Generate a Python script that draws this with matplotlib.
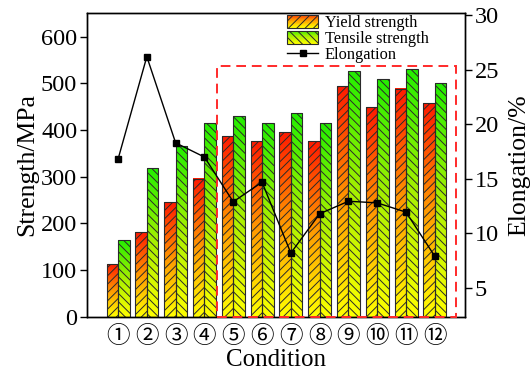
import numpy as np
import matplotlib
matplotlib.use("Agg")
import matplotlib.pyplot as plt
from matplotlib.colors import LinearSegmentedColormap
from matplotlib.patches import Rectangle
from matplotlib.legend_handler import HandlerBase
from matplotlib.lines import Line2D

conditions = ["①", "②", "③", "④", "⑤", "⑥", "⑦", "⑧", "⑨", "⑩", "⑪", "⑫"]
yield_strength = [112, 181, 246, 296, 387, 377, 395, 377, 495, 449, 489, 457]
tensile_strength = [165, 319, 366, 415, 431, 416, 437, 416, 527, 510, 531, 500]
elongation = [16.8, 26.2, 18.3, 17.0, 12.9, 14.7, 8.2, 11.8, 12.95, 12.8, 11.95, 7.9]

plt.rcParams['font.family'] = ['Liberation Serif', 'DejaVu Serif']
plt.rcParams['hatch.linewidth'] = 0.7

cmap_y = LinearSegmentedColormap.from_list("y", ["#ffff00", "#ff9900", "#ff1a00"])
cmap_t = LinearSegmentedColormap.from_list("t", ["#ffff00", "#a8f000", "#22ee00"])

fig = plt.figure(figsize=(5.3, 3.72), dpi=100)
ax = fig.add_axes([0.164, 0.149, 0.713, 0.816])
ax2 = ax.twinx()

x = np.arange(1, len(conditions) + 1)
w = 0.4
grad = np.linspace(0, 1, 256).reshape(-1, 1)
edge = "#2a2a2a"

for xi, ys, ts in zip(x, yield_strength, tensile_strength):
    for off, h, cm, hat in [(-w / 2, ys, cmap_y, "////"), (w / 2, ts, cmap_t, "\\\\\\\\")]:
        x0 = xi + off - w / 2
        ax.imshow(grad, cmap=cm, origin="lower", aspect="auto",
                  extent=[x0, x0 + w, 0, h], zorder=1, interpolation="bilinear")
        ax.bar(xi + off, h, width=w, facecolor="none", edgecolor=edge,
               hatch=hat, linewidth=0.8, zorder=2)

ax.set_xlim(-0.08, 13.04)
ax.set_ylim(0, 651)
ax.set_yticks(range(0, 601, 100))
ax.set_xticks(x)
ax.set_xticklabels(conditions, family=['Noto Sans CJK SC', 'DejaVu Sans'], fontsize=17)
ax.tick_params(axis='x', length=0, pad=6)
ax.tick_params(axis='y', direction='out', length=5, width=1, labelsize=17.5, pad=2)
ax.set_ylabel("Strength/MPa", fontsize=18.5, labelpad=2)
ax.set_xlabel("Condition", fontsize=18)
ax.xaxis.set_label_coords(0.5, -0.106)

ax2.plot(x, elongation, color="black", marker="s", markersize=5, linewidth=1, zorder=5)
ax2.set_ylim(2.38, 30.2)
ax2.set_yticks(range(5, 31, 5))
ax2.tick_params(axis='y', direction='out', length=5, width=1, labelsize=17.5, pad=2)
ax2.set_ylabel("Elongation/%", fontsize=18.5, labelpad=7)

rect = Rectangle((4.43, 0), 12.72 - 4.43, 537, fill=False, edgecolor="#ff2a2a",
                 linestyle=(0, (5, 3)), linewidth=1.4, transform=ax.transData, zorder=4,
                 clip_on=False)
ax2.add_patch(rect)

for a in (ax, ax2):
    for s in a.spines.values():
        s.set_linewidth(1.0)


class GradHandler(HandlerBase):
    def __init__(self, cmap, hatch):
        super().__init__()
        self.cmap = cmap
        self.hatch = hatch

    def create_artists(self, legend, orig_handle, xdescent, ydescent, width, height, fontsize, trans):
        arts = []
        n = 20
        for i in range(n):
            r = Rectangle((-xdescent, -ydescent + height * i / n), width, height / n + 0.2,
                          facecolor=self.cmap((i + 0.5) / n * 0.85), edgecolor="none", transform=trans)
            arts.append(r)
        r = Rectangle((-xdescent, -ydescent), width, height, facecolor="none",
                      edgecolor=edge, hatch=self.hatch, linewidth=0.8, transform=trans)
        arts.append(r)
        return arts


h_y = Rectangle((0, 0), 1, 1)
h_t = Rectangle((0, 0), 1, 1)
h_e = Line2D([], [], color="black", marker="s", markersize=5, linewidth=1)
leg = ax2.legend([h_y, h_t, h_e], ["Yield strength", "Tensile strength", "Elongation"],
                 handler_map={h_y: GradHandler(cmap_y, "////"), h_t: GradHandler(cmap_t, "\\\\\\\\")},
                 loc="upper left", bbox_to_anchor=(287 / 530, 1 - 15 / 372),
                 bbox_transform=fig.transFigure, frameon=False, fontsize=11.8,
                 handlelength=1.9, handleheight=0.8, labelspacing=0.0, handletextpad=0.4,
                 borderaxespad=0, borderpad=0)

fig.savefig("out.png", dpi=100)
